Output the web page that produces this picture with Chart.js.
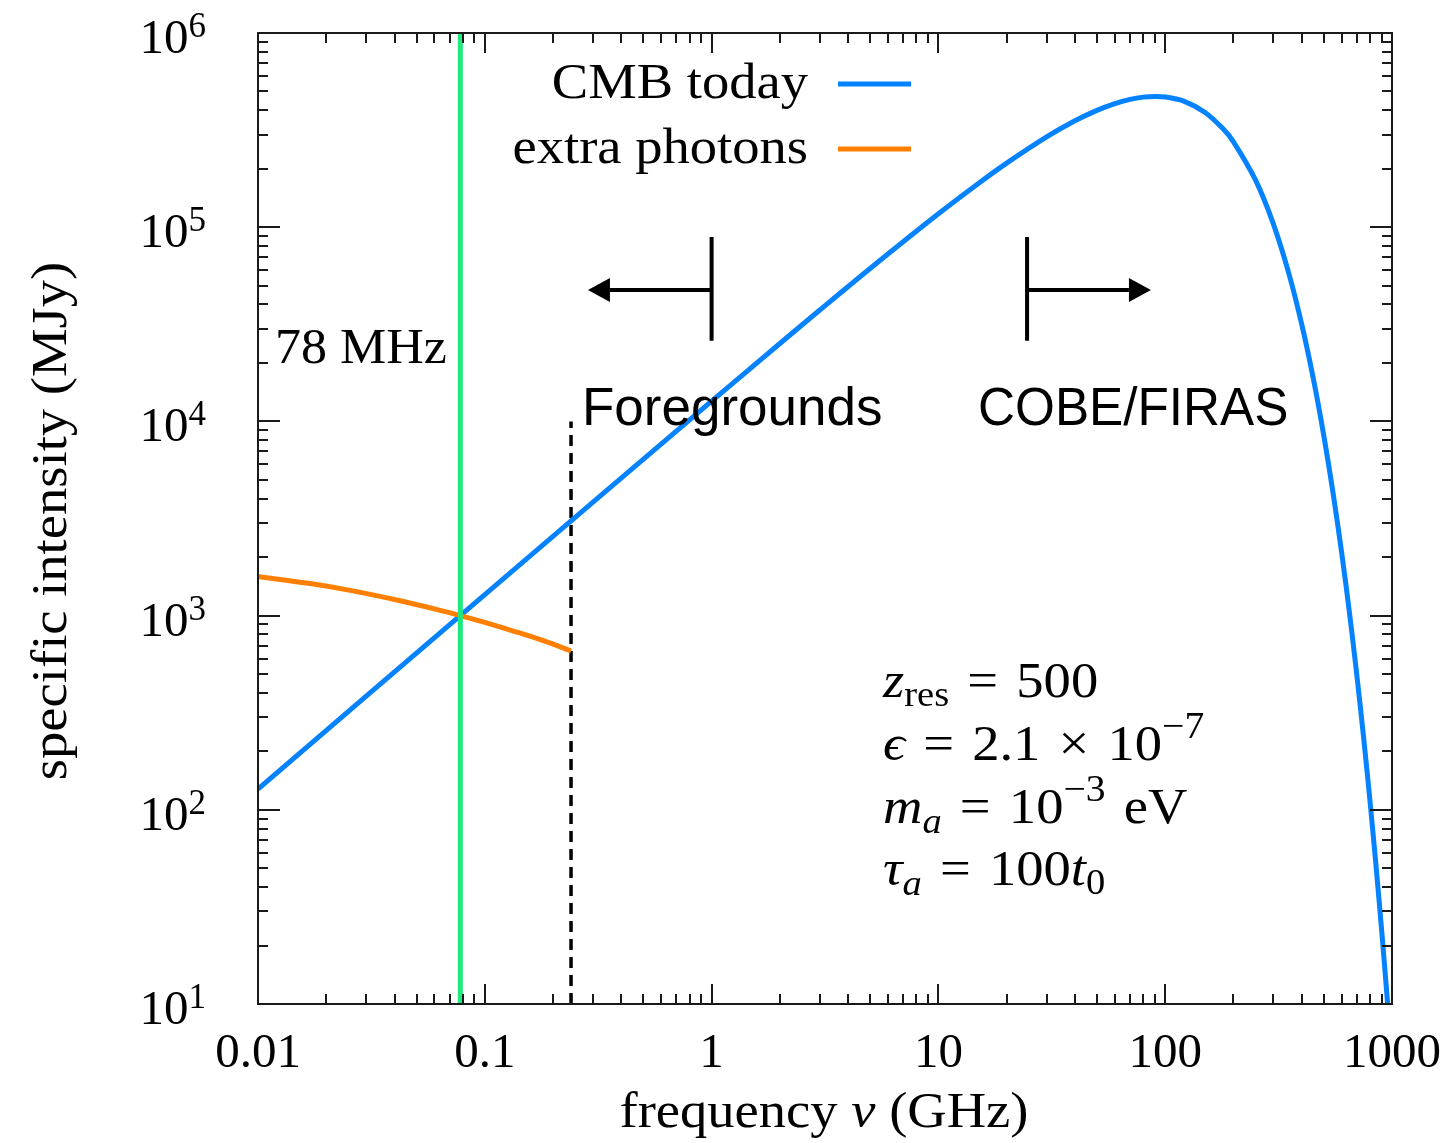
<!DOCTYPE html>
<html>
<head>
<meta charset="utf-8">
<script src="https://cdn.jsdelivr.net/npm/chart.js@4.4.1/dist/chart.umd.min.js"></script>
<style>
  html, body { margin: 0; padding: 0; background: #fff; }
  #spectrum { display: block; }
</style>
</head>
<body>
<canvas id="spectrum" width="1449" height="1143"></canvas>
<script>
// CMB today (frequency in GHz, intensity in MJy)
const cmbFreq = [0.01, 0.03, 0.1, 0.3, 1, 2, 3, 5, 10, 15, 20, 30, 40, 50, 60, 70, 80, 90, 100,
  120, 150, 180, 200, 250, 300, 350, 400, 450, 500, 550, 600, 650, 700, 750, 800, 850, 900, 950, 1000];
const cmbToday = [128, 385, 1282, 3840, 12710, 25190, 37460, 61320, 117250, 168040, 213900, 291900,
  353240, 399700, 433180, 455200, 467500, 471300, 468590, 447060, 389900, 321000, 275100, 175080,
  103800, 58400, 31590, 16570, 8490, 4256, 2103, 1025, 492, 234, 110.5, 51.7, 24.05, 11.1, 5.1];

// extra photons from the decay, below the foreground cut
const extraFreq = [0.01, 0.017, 0.0255, 0.0423, 0.06, 0.078, 0.1, 0.138, 0.18, 0.24];
const extraPhotons = [1590, 1462, 1348, 1193, 1083, 1000, 922, 823, 745, 658];

// vertical markers
const resonanceFreq = 0.078;       // 78 MHz
const foregroundCut = 0.24;        // dashed line, drawn up to 1e4
const foregroundTop = 1e4;

// bracket arrows: edge frequency, arrow tip frequency
const foregroundArrow = [1, 0.285];
const firasArrow = [24.6, 86.5];
const bracketSpan = [2.6e4, 8.9e4];
const bracketLevel = 4.75e4;

// axes
const freqRange = [0.01, 1000];
const intensityRange = [10, 1e6];
const freqTicks = [0.01, 0.1, 1, 10, 100, 1000];
const freqTickLabels = ['0.01', '0.1', '1', '10', '100', '1000'];
const intensityTicks = [10, 100, 1e3, 1e4, 1e5, 1e6];
const intensityExponents = ['1', '2', '3', '4', '5', '6'];

const SERIF = '"Liberation Serif", "DejaVu Serif", serif';
const SANS = '"Liberation Sans", Arial, sans-serif';
const BLUE = '#0582ff';
const ORANGE = '#ff8000';
const GREEN = '#1de97c';
const SP = '\u2004';   // slightly wider space for math spacing

function runFont(r, size) {
  return (r.italic ? 'italic ' : '') + Math.round(size * (r.scale || 1)) + 'px ' + (r.family || SERIF);
}

// draws a row of text pieces (sub/superscripts, italics) starting at a baseline
function drawRuns(ctx, runs, x, y, size, align, stretch) {
  stretch = stretch || 1;
  let w = 0;
  runs.forEach(r => {
    ctx.font = runFont(r, size);
    r.w = ctx.measureText(r.text).width;
    w += r.w;
  });
  ctx.save();
  ctx.translate(x, y);
  ctx.scale(stretch, 1);
  let cx = align === 'right' ? -w : align === 'center' ? -w / 2 : 0;
  ctx.textAlign = 'left';
  ctx.textBaseline = 'alphabetic';
  ctx.fillStyle = '#000';
  runs.forEach(r => {
    ctx.font = runFont(r, size);
    ctx.fillText(r.text, cx, r.dy || 0);
    cx += r.w;
  });
  ctx.restore();
}

// frame with inward log ticks on all four sides
const frameTicks = {
  id: 'frameTicks',
  afterDatasetsDraw(chart) {
    const { ctx, chartArea: a, scales: { x, y } } = chart;
    ctx.save();
    ctx.strokeStyle = '#1a1a1a';
    ctx.lineWidth = 2;
    ctx.beginPath();
    for (let d = -2; d <= 3; d++) {
      for (let m = 1; m <= 9; m++) {
        const v = m * Math.pow(10, d);
        if (v > freqRange[1] * 1.001) break;
        const px = Math.round(x.getPixelForValue(v));
        const len = m === 1 ? 20 : 10;
        ctx.moveTo(px, a.bottom); ctx.lineTo(px, a.bottom - len);
        ctx.moveTo(px, a.top); ctx.lineTo(px, a.top + len);
      }
    }
    for (let d = 1; d <= 6; d++) {
      for (let m = 1; m <= 9; m++) {
        const v = m * Math.pow(10, d);
        if (v > intensityRange[1] * 1.001) break;
        const py = Math.round(y.getPixelForValue(v));
        const len = m === 1 ? 22 : 10;
        ctx.moveTo(a.left, py); ctx.lineTo(a.left + len, py);
        ctx.moveTo(a.right, py); ctx.lineTo(a.right - len, py);
      }
    }
    ctx.stroke();
    ctx.strokeRect(a.left, a.top, a.right - a.left, a.bottom - a.top);
    ctx.restore();
  }
};

// brackets with arrows marking the foreground and FIRAS ranges
const brackets = {
  id: 'brackets',
  afterDatasetsDraw(chart) {
    const { ctx, scales: { x, y } } = chart;
    const yTop = y.getPixelForValue(bracketSpan[1]);
    const yBot = y.getPixelForValue(bracketSpan[0]);
    const yMid = y.getPixelForValue(bracketLevel);
    ctx.save();
    ctx.strokeStyle = '#000';
    ctx.fillStyle = '#000';
    ctx.lineWidth = 4;
    [foregroundArrow, firasArrow].forEach(([edge, tip]) => {
      const xe = x.getPixelForValue(edge);
      const xt = x.getPixelForValue(tip);
      const dir = Math.sign(xt - xe);
      const head = 22;
      ctx.beginPath();
      ctx.moveTo(xe, yTop); ctx.lineTo(xe, yBot);
      ctx.moveTo(xe, yMid); ctx.lineTo(xt - dir * head, yMid);
      ctx.stroke();
      ctx.beginPath();
      ctx.moveTo(xt, yMid);
      ctx.lineTo(xt - dir * head, yMid - 12);
      ctx.lineTo(xt - dir * head, yMid + 12);
      ctx.closePath();
      ctx.fill();
    });
    ctx.restore();
  }
};

// tick labels, axis titles, legend and annotations
const labels = {
  id: 'labels',
  afterDraw(chart) {
    const { ctx, scales: { x, y } } = chart;
    const S = 1.07;

    freqTicks.forEach((v, i) => {
      drawRuns(ctx, [{ text: freqTickLabels[i] }], x.getPixelForValue(v), 1067, 49, 'center');
    });
    intensityTicks.forEach((v, i) => {
      drawRuns(ctx, [{ text: '10' }, { text: intensityExponents[i], scale: 0.72, dy: -16 }],
        206, y.getPixelForValue(v) + 20, 49, 'right');
    });

    drawRuns(ctx, [{ text: 'frequency ' }, { text: 'ν', italic: true }, { text: ' (GHz)' }],
      824, 1127, 51, 'center', S);

    ctx.save();
    ctx.translate(66, 521);
    ctx.rotate(-Math.PI / 2);
    drawRuns(ctx, [{ text: 'specific intensity (MJy)' }], 0, 0, 51, 'center', S);
    ctx.restore();

    // legend
    drawRuns(ctx, [{ text: 'CMB today' }], 808, 98, 51, 'right', S);
    drawRuns(ctx, [{ text: 'extra photons' }], 808, 163, 51, 'right', S);
    ctx.save();
    ctx.lineWidth = 5;
    ctx.strokeStyle = BLUE;
    ctx.beginPath(); ctx.moveTo(838, 84); ctx.lineTo(911, 84); ctx.stroke();
    ctx.strokeStyle = ORANGE;
    ctx.beginPath(); ctx.moveTo(838, 149); ctx.lineTo(911, 149); ctx.stroke();
    ctx.restore();

    drawRuns(ctx, [{ text: '78 MHz' }], 275, 363, 51, 'left', 1.02);
    drawRuns(ctx, [{ text: 'Foregrounds', family: SANS }], 582, 425, 53, 'left');
    drawRuns(ctx, [{ text: 'COBE/FIRAS', family: SANS }], 978, 425, 53, 'left', 0.967);

    // model parameters
    const px = 883;
    drawRuns(ctx, [{ text: 'z', italic: true }, { text: 'res', scale: 0.7, dy: 9 },
      { text: SP + '=' + SP + '500' }], px, 697, 51, 'left', S);
    drawRuns(ctx, [{ text: 'ϵ', italic: true }, { text: SP + '=' + SP + '2.1' + SP + '×' + SP + '10' },
      { text: '−7', scale: 0.72, dy: -22 }], px, 760, 51, 'left', S);
    drawRuns(ctx, [{ text: 'm', italic: true }, { text: 'a', italic: true, scale: 0.7, dy: 10 },
      { text: SP + '=' + SP + '10' }, { text: '−3', scale: 0.72, dy: -22 }, { text: SP + 'eV' }],
      px, 823, 51, 'left', S);
    drawRuns(ctx, [{ text: 'τ', italic: true }, { text: 'a', italic: true, scale: 0.7, dy: 10 },
      { text: SP + '=' + SP + '100' }, { text: 't', italic: true }, { text: '0', scale: 0.7, dy: 9 }],
      px, 885, 51, 'left', S);
  }
};

const toPoints = (xs, ys) => xs.map((v, i) => ({ x: v, y: ys[i] }));

new Chart(document.getElementById('spectrum'), {
  type: 'scatter',
  data: {
    datasets: [
      {
        label: '78 MHz',
        data: [{ x: resonanceFreq, y: intensityRange[0] }, { x: resonanceFreq, y: intensityRange[1] }],
        showLine: true, borderColor: GREEN, borderWidth: 5, pointRadius: 0, clip: 0
      },
      {
        label: 'extra photons',
        data: toPoints(extraFreq, extraPhotons),
        showLine: true, borderColor: ORANGE, borderWidth: 5, pointRadius: 0, tension: 0.3
      },
      {
        label: 'CMB today',
        data: toPoints(cmbFreq, cmbToday),
        showLine: true, borderColor: BLUE, borderWidth: 5, pointRadius: 0, tension: 0.3, clip: 0
      },
      {
        label: 'foreground cut',
        data: [{ x: foregroundCut, y: intensityRange[0] }, { x: foregroundCut, y: foregroundTop }],
        showLine: true, borderColor: '#000', borderWidth: 3.5, borderDash: [11, 7], pointRadius: 0
      }
    ]
  },
  options: {
    responsive: false,
    devicePixelRatio: 1,
    animation: false,
    layout: { padding: { left: 258, right: 57, top: 33, bottom: 139 } },
    plugins: { legend: { display: false }, tooltip: { enabled: false } },
    scales: {
      x: {
        type: 'logarithmic', min: freqRange[0], max: freqRange[1],
        grid: { display: false }, border: { display: false }, ticks: { display: false },
        afterFit: s => { s.height = 0; }
      },
      y: {
        type: 'logarithmic', min: intensityRange[0], max: intensityRange[1],
        grid: { display: false }, border: { display: false }, ticks: { display: false },
        afterFit: s => { s.width = 0; }
      }
    }
  },
  plugins: [frameTicks, brackets, labels]
});
</script>
</body>
</html>
